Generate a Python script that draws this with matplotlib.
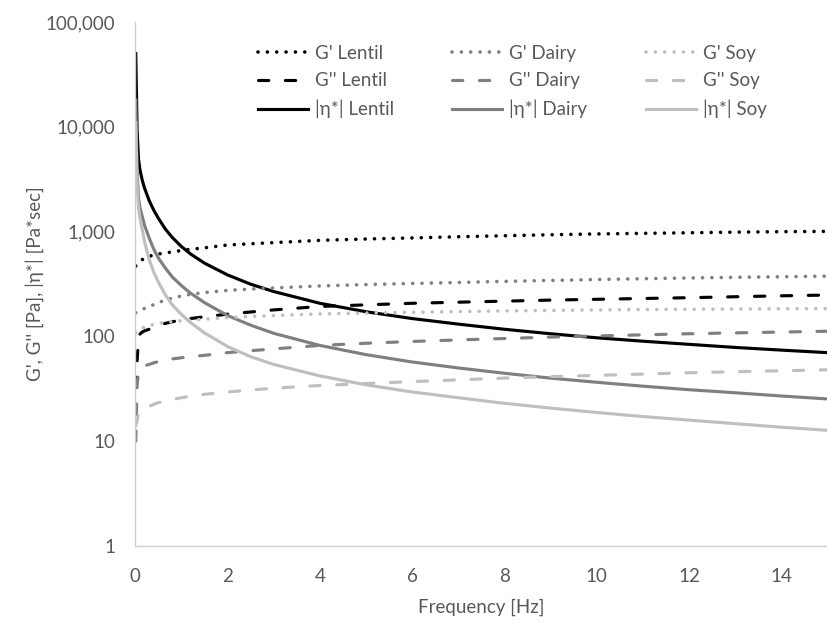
import matplotlib
matplotlib.use("Agg")
import matplotlib.pyplot as plt
from matplotlib.ticker import FixedLocator, FuncFormatter

plt.rcParams["font.family"] = ["Lato", "DejaVu Sans"]

# Frequency grid (Hz)
freq = [0.01, 0.04, 0.07, 0.1, 0.15, 0.2, 0.3, 0.4, 0.5, 0.65, 0.8, 1.0, 1.2, 1.5,
        2, 2.5, 3, 4, 5, 6, 7, 8, 9, 10, 11, 12, 13, 14, 15]

# Lentil
g1_lentil = [470, 490, 505, 520, 540, 555, 580, 600, 612, 625, 640, 660, 678, 700,
             745, 765, 785, 825, 850, 870, 893, 913, 933, 950, 962, 975, 988, 998, 1005]
g2_lentil = [18, 60, 95, 105, 110, 113, 117, 122, 127, 133, 138, 143, 148, 154,
             163, 171, 179, 193, 200, 207, 212, 217, 222, 226, 230, 234, 239, 244, 248]
eta_lentil = [50000, 9000, 4900, 3900, 3100, 2600, 1980, 1600, 1340, 1060, 880, 720, 611, 500,
              386, 315, 268, 207, 172, 148, 131, 117, 106, 97, 90, 84, 78.5, 74, 70]

# Dairy
g1_dairy = [168, 170, 172, 175, 180, 185, 193, 201, 210, 222, 232, 243, 252, 262,
            275, 283, 290, 303, 312, 320, 327, 335, 342, 349, 355, 361, 366, 371, 376]
g2_dairy = [10, 35, 45, 49, 51, 52.5, 54, 56, 57.5, 59.5, 61, 62.5, 64, 66,
            70, 73, 76, 82, 86, 89.5, 92.5, 95.5, 98.5, 101, 103.5, 106, 108, 110, 112]
eta_dairy = [18000, 3600, 2100, 1700, 1400, 1150, 870, 680, 560, 450, 370, 305, 258, 210,
             158, 128, 107, 82, 67, 57, 50, 44.5, 40, 36.5, 33.5, 31, 29, 27, 25.3]

# Soy
g1_soy = [108, 111, 114, 117, 120, 123, 127, 130, 133, 136, 138.5, 141, 143, 146,
          151, 155, 158, 164, 167, 170, 172.5, 175, 177, 179, 180.5, 181.5, 182.5, 183.5, 184]
g2_soy = [14, 16, 18, 19, 20, 20.5, 21.5, 22.5, 23.3, 24.3, 25, 26, 27, 28,
          29.5, 30.8, 32, 34, 35.5, 37, 38.5, 40, 41.3, 42.5, 43.7, 45, 46, 47, 48]
eta_soy = [11000, 2800, 1700, 1350, 1050, 800, 540, 410, 330, 250, 200, 162, 135, 108,
           80, 64, 54, 42, 34.5, 29.5, 26, 23, 20.7, 18.8, 17.2, 15.9, 14.7, 13.6, 12.7]

samples = ["Lentil", "Dairy", "Soy"]
colors = {"Lentil": "#000000", "Dairy": "#7f7f7f", "Soy": "#bfbfbf"}
series = {
    "Lentil": (g1_lentil, g2_lentil, eta_lentil),
    "Dairy": (g1_dairy, g2_dairy, eta_dairy),
    "Soy": (g1_soy, g2_soy, eta_soy),
}

text_col = "#595959"
fs = 13.5
lw = 2.25
lw_dot = 2.6
W, H = 827, 622

fig = plt.figure(figsize=(W / 100, H / 100), dpi=100)
ax = fig.add_axes([135.3 / W, 1 - 546 / H, 692 / W, 524 / H])

handles = {}
for s in samples:
    g1, g2, eta = series[s]
    c = colors[s]
    h1, = ax.plot(freq, g1, color=c, lw=lw_dot, linestyle=(0, (0.01, 2.58)),
                  dash_capstyle="round", label=f"G' {s}")
    h2, = ax.plot(freq, g2, color=c, lw=lw, linestyle=(0, (3.3, 5.3)),
                  dash_capstyle="round", label=f"G'' {s}")
    h3, = ax.plot(freq, eta, color=c, lw=lw, linestyle="-", label=f"|η*| {s}")
    handles[s] = [h1, h2, h3]

ax.set_yscale("log")
ax.set_ylim(1, 100000)
ax.set_xlim(0, 15)
ax.yaxis.set_major_locator(FixedLocator([1, 10, 100, 1000, 10000, 100000]))
ax.yaxis.set_minor_locator(FixedLocator([]))
ax.yaxis.set_major_formatter(FuncFormatter(lambda v, p: f"{v:,.0f}"))
ax.set_xticks([0, 2, 4, 6, 8, 10, 12, 14])

for side in ["top", "right"]:
    ax.spines[side].set_visible(False)
for side in ["left", "bottom"]:
    ax.spines[side].set_color("#d0d0d0")
    ax.spines[side].set_linewidth(1.0)

ax.tick_params(axis="both", length=0, labelsize=fs, labelcolor=text_col)
ax.tick_params(axis="x", pad=16)
ax.tick_params(axis="y", pad=14.4)

ax.set_xlabel("Frequency [Hz]", fontsize=fs, color=text_col, labelpad=9.5)
ax.set_ylabel("G', G'' [Pa], |η*| [Pa*sec]", fontsize=fs, color=text_col, labelpad=1)

# one legend per sample column (Excel-like grid), placed by handle start pixel
col_x = {"Lentil": 258, "Dairy": 452, "Soy": 646}
top_y = 45
for s in samples:
    leg = fig.legend(handles=handles[s], loc="upper left",
                     bbox_to_anchor=(col_x[s] / W, 1 - top_y / H),
                     bbox_transform=fig.transFigure, frameon=False, fontsize=fs,
                     borderpad=0, borderaxespad=0, handlelength=2.67,
                     handletextpad=0.37, labelspacing=0.55)
    for t in leg.get_texts():
        t.set_color(text_col)

fig.savefig("out.png", dpi=100)
